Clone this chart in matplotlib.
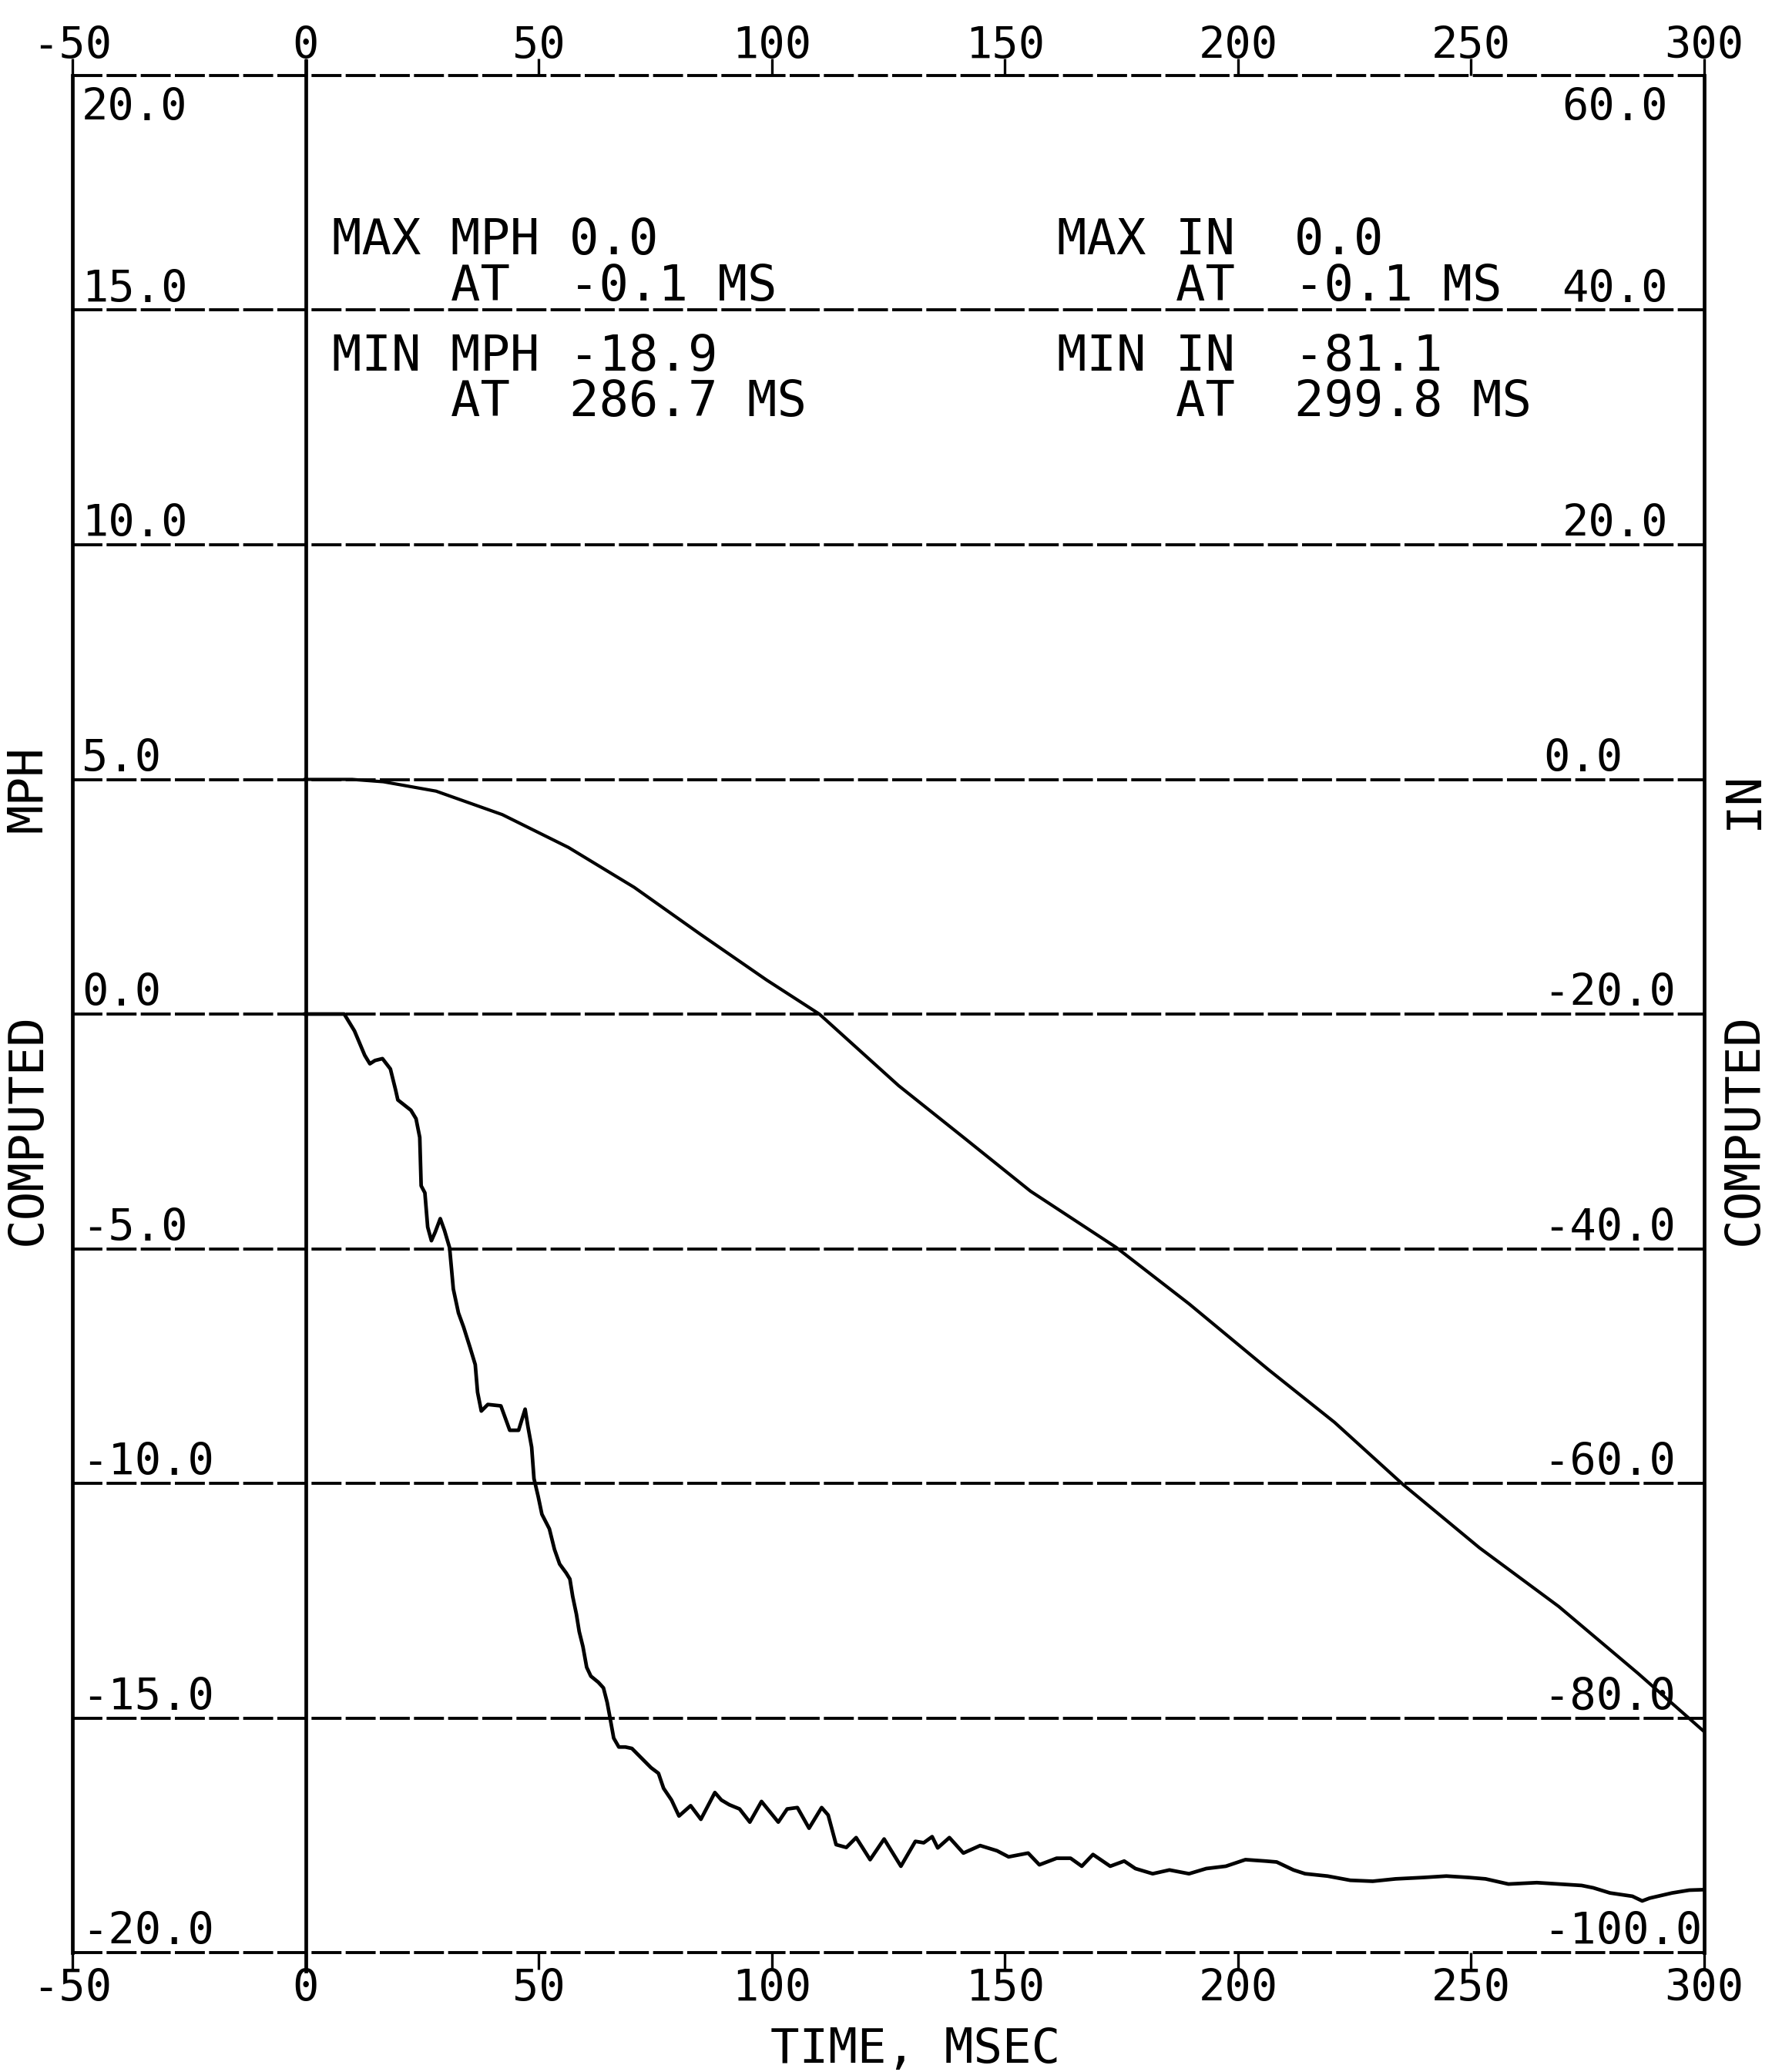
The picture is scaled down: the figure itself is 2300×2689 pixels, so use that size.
import matplotlib.pyplot as plt
import matplotlib.transforms as mtransforms

plt.rcParams['font.family'] = ['DejaVu Sans Mono', 'DejaVu Sans']

# computed velocity, time in msec vs mph
vel_t = [-0.1, 4.0, 8.3, 10.5, 12.7, 13.8, 14.9, 16.5, 18.2, 19.3, 19.8, 22.6, 23.7,
         24.5, 24.8, 25.6, 26.2, 27.0, 27.8, 28.9, 29.8, 30.9, 31.7, 32.8, 33.9,
         35.3, 36.4, 36.9, 37.7, 39.1, 41.9, 43.0, 43.8, 45.7, 47.1, 47.7, 48.5,
         49.0, 49.9, 50.7, 52.3, 53.4, 54.5, 55.9, 56.7, 57.3, 58.1, 58.7, 59.5,
         60.3, 61.2, 62.8, 63.9, 64.7, 65.3, 66.1, 67.2, 68.6, 70.0, 72.2, 74.1,
         75.7, 76.8, 78.5, 80.1, 82.6, 84.8, 87.8, 89.2, 90.9, 93.1, 95.3, 97.8,
         101.4, 103.3, 105.5, 108.0, 110.7, 112.1, 113.8, 116.0, 118.1, 121.1,
         124.1, 127.7, 130.8, 132.6, 134.4, 135.6, 138.1, 141.1, 144.7, 148.3,
         150.8, 155.0, 157.4, 161.1, 164.1, 166.5, 168.9, 172.6, 175.6, 178.0,
         181.7, 185.3, 189.5, 193.2, 197.4, 201.6, 205.9, 208.3, 211.9, 214.4,
         219.2, 224.1, 228.9, 233.8, 239.8, 244.7, 249.5, 253.1, 258.0, 264.1,
         268.9, 273.7, 276.2, 279.8, 284.6, 286.7, 288.3, 293.1, 296.8, 299.8]
vel_mph = [0.0, 0.0, 0.0, -0.36, -0.88, -1.06, -0.99, -0.95, -1.17, -1.61, -1.83,
           -2.05, -2.23, -2.63, -3.66, -3.81, -4.54, -4.83, -4.65, -4.36, -4.61,
           -4.98, -5.86, -6.37, -6.67, -7.11, -7.47, -8.06, -8.46, -8.32, -8.35,
           -8.65, -8.87, -8.87, -8.42, -8.79, -9.23, -9.90, -10.28, -10.66, -10.97,
           -11.41, -11.72, -11.91, -12.04, -12.41, -12.79, -13.16, -13.48, -13.92,
           -14.11, -14.24, -14.36, -14.67, -14.99, -15.43, -15.62, -15.62, -15.65,
           -15.87, -16.06, -16.18, -16.50, -16.75, -17.09, -16.87, -17.16, -16.59,
           -16.75, -16.85, -16.94, -17.22, -16.78, -17.22, -16.94, -16.91, -17.35,
           -16.91, -17.07, -17.70, -17.76, -17.55, -18.02, -17.58, -18.16, -17.63,
           -17.66, -17.53, -17.77, -17.55, -17.88, -17.72, -17.83, -17.96, -17.88,
           -18.13, -17.99, -17.99, -18.16, -17.91, -18.16, -18.05, -18.21, -18.32,
           -18.24, -18.32, -18.21, -18.16, -18.02, -18.05, -18.07, -18.24, -18.32,
           -18.37, -18.46, -18.48, -18.43, -18.40, -18.37, -18.40, -18.43, -18.54,
           -18.51, -18.54, -18.57, -18.62, -18.73, -18.80, -18.90, -18.84, -18.73,
           -18.67, -18.66]

# computed displacement, time in msec vs inches
disp_t = [-0.1, 10.0, 16.7, 28.0, 42.2, 56.4, 70.5, 84.7, 98.9, 110.2, 127.2,
          141.4, 155.5, 173.9, 189.5, 206.5, 220.7, 235.4, 251.8, 268.8, 285.8,
          299.8]
disp_in = [0.0, 0.0, -0.2, -1.0, -3.0, -5.8, -9.2, -13.2, -17.1, -20.0, -26.1,
           -30.6, -35.1, -39.9, -44.7, -50.3, -54.8, -60.1, -65.5, -70.5, -76.2,
           -81.1]

time_ticks = [-50, 0, 50, 100, 150, 200, 250, 300]
mph_ticks = [20, 15, 10, 5, 0, -5, -10, -15, -20]
in_ticks = [60, 40, 20, 0, -20, -40, -60, -80, -100]

mph_summary = ["MAX MPH 0.0", "    AT  -0.1 MS", "MIN MPH -18.9", "    AT  286.7 MS"]
in_summary = ["MAX IN  0.0", "    AT  -0.1 MS", "MIN IN  -81.1", "    AT  299.8 MS"]

W, H = 2300, 2689
fig = plt.figure(figsize=(W / 100, H / 100), dpi=100)
fig.patch.set_facecolor('white')

ax = fig.add_axes([94 / W, 1 - 2534 / H, (2212 - 94) / W, (2534 - 98) / H])
ax.set_xlim(-50, 300)
ax.set_ylim(-20, 20)
ax2 = ax.twinx()
ax2.set_ylim(-100, 60)

dash = (0, (10, 1.4))
for v in mph_ticks:
    ax.axhline(v, color='k', lw=2.8, ls=dash, clip_on=False, zorder=1)
ax.axvline(0, ymin=-0.01, ymax=1.008, color='k', lw=3.4, clip_on=False)

for s in ['top', 'bottom']:
    ax.spines[s].set_visible(False)
for s in ['left', 'right']:
    ax.spines[s].set_linewidth(3.4)
for s in ax2.spines.values():
    s.set_visible(False)

ax.set_xticks(time_ticks)
ax.set_yticks([])
ax2.set_yticks([])
ax.tick_params(axis='x', top=True, bottom=True, direction='out', length=16,
               width=2.4, labelbottom=False, labeltop=False)

ax.plot(vel_t, vel_mph, color='k', lw=3.4, zorder=3)
ax2.plot(disp_t, disp_in, color='k', lw=3.0, zorder=3)

# time labels above and below the frame
tx = mtransforms.blended_transform_factory(ax.transData, ax.transAxes)
for t in time_ticks:
    ax.text(t, 1.009, str(t), transform=tx, ha='center', va='baseline', fontsize=41)
    ax.text(t, -0.026, str(t), transform=tx, ha='center', va='baseline', fontsize=41)

# mph labels on the inside left, inches on the inside right
for v in mph_ticks:
    if v == mph_ticks[0]:
        ax.text(-48, v - 0.25, f"{v:.1f}", ha='left', va='top', fontsize=41)
    else:
        ax.text(-48, v + 0.18, f"{v:.1f}", ha='left', va='baseline', fontsize=41)
for v in in_ticks:
    if v == in_ticks[0]:
        ax2.text(269.5, v - 1.0, f"{v:.1f}", ha='left', va='top', fontsize=41)
    elif v > 0:
        ax2.text(269.5, v + 0.7, f"{v:.1f}", ha='left', va='baseline', fontsize=41)
    else:
        ax2.text(265.5, v + 0.7, f"{v:.1f}", ha='left', va='baseline', fontsize=41)

# peak summaries
for line, y in zip(mph_summary, [16.19, 15.2, 13.71, 12.74]):
    ax.text(5.7, y, line, ha='left', va='baseline', fontsize=46)
for line, y in zip(in_summary, [16.19, 15.2, 13.71, 12.74]):
    ax.text(161.2, y, line, ha='left', va='baseline', fontsize=46)

fig.text(1188 / W, 1 - 2677 / H, "TIME, MSEC", ha='center', va='baseline', fontsize=45)
fig.text(36 / W, 1 - 1465 / H, "COMPUTED", rotation=90, ha='center', va='center', fontsize=45)
fig.text(36 / W, 1 - 1024 / H, "MPH", rotation=90, ha='center', va='center', fontsize=45)
fig.text(2264 / W, 1 - 1465 / H, "COMPUTED", rotation=90, ha='center', va='center', fontsize=45)
fig.text(2264 / W, 1 - 1038 / H, "IN", rotation=90, ha='center', va='center', fontsize=45)

fig.savefig("out.png", dpi=100, facecolor='white')
